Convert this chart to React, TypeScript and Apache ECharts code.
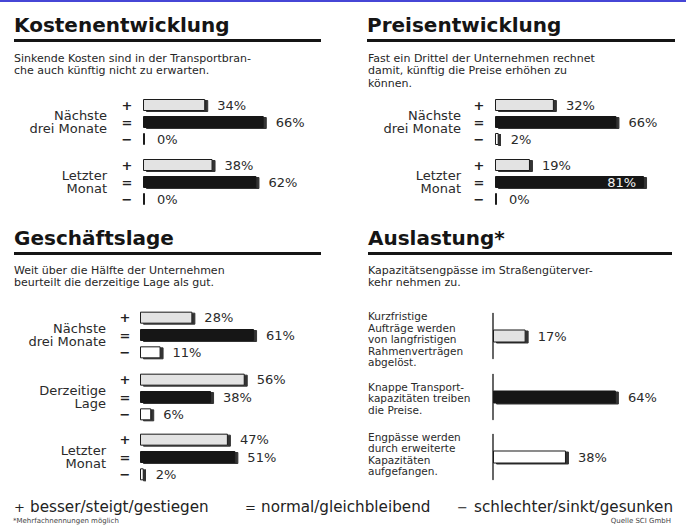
import React, { useEffect, useRef } from 'react';
import * as echarts from 'echarts';

// ---- data ----
const symbols = ['+', '=', '−'];

const kostenTitle = 'Kostenentwicklung';
const kostenText = 'Sinkende Kosten sind in der Transportbran-\nche auch künftig nicht zu erwarten.';
const kostenGroups = ['Nächste\ndrei Monate', 'Letzter\nMonat'];
const kostenPlus = [34, 38];
const kostenEqual = [66, 62];
const kostenMinus = [0, 0];

const preisTitle = 'Preisentwicklung';
const preisText = 'Fast ein Drittel der Unternehmen rechnet\ndamit, künftig die Preise erhöhen zu\nkönnen.';
const preisGroups = ['Nächste\ndrei Monate', 'Letzter\nMonat'];
const preisPlus = [32, 19];
const preisEqual = [66, 81];
const preisMinus = [2, 0];

const lageTitle = 'Geschäftslage';
const lageText = 'Weit über die Hälfte der Unternehmen\nbeurteilt die derzeitige Lage als gut.';
const lageGroups = ['Nächste\ndrei Monate', 'Derzeitige\nLage', 'Letzter\nMonat'];
const lagePlus = [28, 56, 47];
const lageEqual = [61, 38, 51];
const lageMinus = [11, 6, 2];

const auslTitle = 'Auslastung*';
const auslText = 'Kapazitätsengpässe im Straßengüterver-\nkehr nehmen zu.';
const auslCategories = [
  'Kurzfristige\nAufträge werden\nvon langfristigen\nRahmenverträgen\nabgelöst.',
  'Knappe Transport-\nkapazitäten treiben\ndie Preise.',
  'Engpässe werden\ndurch erweiterte\nKapazitäten\naufgefangen.',
];
const auslValues = [17, 64, 38];
const auslKinds = [0, 1, 2];

const legendWords = ['besser/steigt/gestiegen', 'normal/gleichbleibend', 'schlechter/sinkt/gesunken'];
const footnote = '*Mehrfachnennungen möglich';
const source = 'Quelle SCI GmbH';

const FONT = '"DejaVu Sans", "Noto Sans", sans-serif';

const kindStyles = [
  { color: '#e3e3e3', borderColor: '#1a1a1a', borderWidth: 1 },
  { color: '#181818', borderColor: '#181818', borderWidth: 1 },
  { color: '#ffffff', borderColor: '#1a1a1a', borderWidth: 1 },
];

export default function App() {
  const ref = useRef<HTMLDivElement>(null);
  useEffect(() => {
    const chart = echarts.init(ref.current!, null, { renderer: 'svg' });
    const grid: any[] = [];
    const xAxis: any[] = [];
    const yAxis: any[] = [];
    const series: any[] = [];
    const graphic: any[] = [];

    const addGroup = (
      left: number, width: number, centerY: number, height: number, barW: number,
      values: number[], kinds: number[], cats: string[], showAxis: boolean, symMargin: number
    ) => {
      const idx = grid.length;
      grid.push({ left, top: centerY - height / 2, width, height, containLabel: false });
      xAxis.push({ gridIndex: idx, type: 'value', min: 0, max: 100, show: false });
      yAxis.push({
        gridIndex: idx, type: 'category', inverse: true, data: cats,
        axisLine: { show: showAxis, lineStyle: { color: '#333', width: 1.5 } },
        axisTick: { show: false },
        axisLabel: {
          show: !showAxis, margin: symMargin, align: 'center',
          fontFamily: FONT, fontSize: 13, fontWeight: 'bold', color: '#222',
        },
        splitLine: { show: false },
      });
      series.push({
        type: 'bar', xAxisIndex: idx, yAxisIndex: idx, barWidth: barW, barMinHeight: 2,
        data: values.map((v, i) => ({
          value: v,
          itemStyle: {
            ...kindStyles[kinds[i]],
            shadowColor: 'rgba(0,0,0,0.8)', shadowOffsetX: 3, shadowOffsetY: 1, shadowBlur: 1,
          },
          label: v >= 75
            ? { show: true, position: 'insideRight', distance: 8, color: '#f4f4f4' }
            : { show: true, position: 'right', distance: 12, color: '#2a2a2a' },
        })),
        label: { show: true, formatter: '{c}%', fontFamily: FONT, fontSize: 13 },
        silent: true,
      });
    };

    const addTitle = (x: number, y: number, text: string, lineW: number) => {
      graphic.push({
        type: 'text', x, y,
        style: { text, fontFamily: FONT, fontSize: 20, fontWeight: 'bold', fill: '#151515', verticalAlign: 'middle' },
      });
      graphic.push({ type: 'rect', shape: { x, y: y + 14, width: lineW, height: 3 }, style: { fill: '#151515' } });
    };
    const addSub = (x: number, y: number, text: string) => {
      graphic.push({
        type: 'text', x, y,
        style: { text, fontFamily: FONT, fontSize: 11, lineHeight: 12.5, fill: '#262626', verticalAlign: 'top' },
      });
    };
    const addCat = (x: number, y: number, text: string) => {
      graphic.push({
        type: 'text', x, y,
        style: { text, fontFamily: FONT, fontSize: 13, lineHeight: 13.5, fill: '#2a2a2a', align: 'right', verticalAlign: 'middle' },
      });
    };

    // Panel 1
    addTitle(14, 25, kostenTitle, 307);
    addSub(14, 52, kostenText);
    const p1c = [122, 182];
    kostenGroups.forEach((g, i) => {
      addGroup(143, 183, p1c[i], 51, 12, [kostenPlus[i], kostenEqual[i], kostenMinus[i]], [0, 1, 2], symbols, false, 16);
      addCat(107, p1c[i], g);
    });

    // Panel 2
    addTitle(367, 25, preisTitle, 308);
    addSub(368, 52, preisText);
    const p2c = [122, 182];
    preisGroups.forEach((g, i) => {
      addGroup(495, 184, p2c[i], 51, 12, [preisPlus[i], preisEqual[i], preisMinus[i]], [0, 1, 2], symbols, false, 16);
      addCat(461, p2c[i], g);
    });

    // Panel 3
    addTitle(14, 238, lageTitle, 307);
    addSub(14, 264, lageText);
    const p3c = [335, 397, 457];
    lageGroups.forEach((g, i) => {
      addGroup(140, 187, p3c[i], 52, 12, [lagePlus[i], lageEqual[i], lageMinus[i]], [0, 1, 2], symbols, false, 15);
      addCat(106, p3c[i], g);
    });

    // Panel 4
    addTitle(368, 238, auslTitle, 304);
    addSub(368, 264, auslText);
    const p4c = [336, 397, 457];
    const p4t = [339, 398, 454];
    auslCategories.forEach((c, i) => {
      addGroup(493, 192, p4c[i], 45, 13, [auslValues[i]], [auslKinds[i]], [c], true, 0);
      graphic.push({
        type: 'text', x: 368, y: p4t[i],
        style: { text: c, fontFamily: FONT, fontSize: 10.5, lineHeight: 11.5, fill: '#2a2a2a', verticalAlign: 'middle' },
      });
    });

    // bottom legend
    const symX = [14, 245, 457];
    const wordX = [30, 261, 474];
    legendWords.forEach((t, i) => {
      graphic.push({
        type: 'text', x: symX[i], y: 507,
        style: { text: symbols[i], fontFamily: FONT, fontSize: 13, fill: '#222', verticalAlign: 'middle' },
      });
      graphic.push({
        type: 'text', x: wordX[i], y: 507,
        style: { text: t, fontFamily: FONT, fontSize: 15.2, fill: '#222', verticalAlign: 'middle' },
      });
    });
    graphic.push({ type: 'text', x: 13, y: 521, style: { text: footnote, fontFamily: FONT, fontSize: 7, fill: '#444', verticalAlign: 'middle' } });
    graphic.push({ type: 'text', x: 671, y: 521, style: { text: source, fontFamily: FONT, fontSize: 7, fill: '#444', align: 'right', verticalAlign: 'middle' } });

    // top blue rule
    graphic.push({ type: 'rect', shape: { x: 0, y: 0, width: 686, height: 2 }, style: { fill: '#4646d6' } });

    chart.setOption({
      animation: false,
      backgroundColor: '#ffffff',
      grid, xAxis, yAxis, series, graphic,
    });
    return () => chart.dispose();
  }, []);
  return <div ref={ref} style={{ position: 'absolute', left: 0, top: 0, width: 686, height: 532 }} />;
}
